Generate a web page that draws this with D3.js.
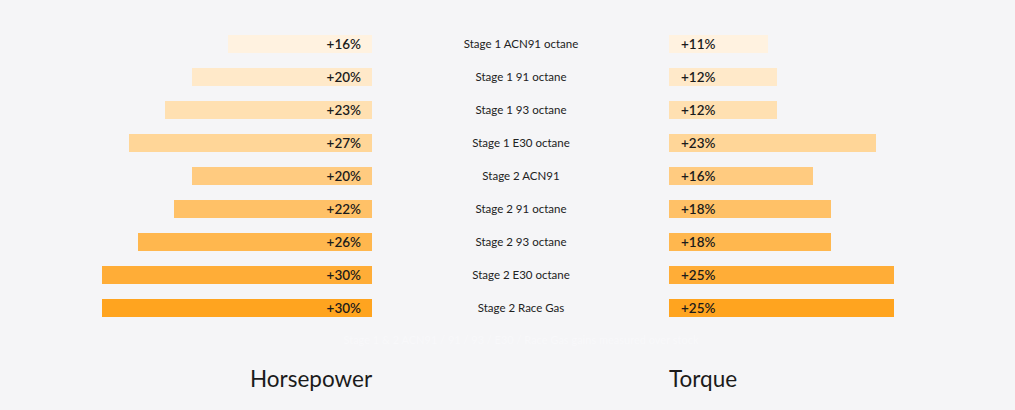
<!DOCTYPE html>
<html>
<head>
<meta charset="utf-8">
<script src="https://cdn.jsdelivr.net/npm/d3@7"></script>
<style>
  html, body { margin: 0; padding: 0; background: #f5f5f7; }
  svg { display: block; font-family: Lato, "Noto Sans", sans-serif; }
</style>
</head>
<body>
<svg id="chart" width="1015" height="410"></svg>
<script>
const categories = [
  "Stage 1 ACN91 octane",
  "Stage 1 91 octane",
  "Stage 1 93 octane",
  "Stage 1 E30 octane",
  "Stage 2 ACN91",
  "Stage 2 91 octane",
  "Stage 2 93 octane",
  "Stage 2 E30 octane",
  "Stage 2 Race Gas"
];
const horsepower = [16, 20, 23, 27, 20, 22, 26, 30, 30];
const torque = [11, 12, 12, 23, 16, 18, 18, 25, 25];
const seriesTitles = ["Horsepower", "Torque"];
const footnote = "Stage 1 & 2 ACN91 / 91 / 93 / E30 / Race Gas gains measured over stock";

const palette = ["#fff2e0", "#ffe9c9", "#ffe0b1", "#ffd698", "#ffcb80", "#ffc167", "#ffb74e", "#ffad37", "#ffa41f"];

const svg = d3.select("#chart");
const leftEdge = 372, rightStart = 669, centerX = 521;

const x = d3.scaleLinear().domain([0, 30]).range([0, 270]);
const y = d3.scaleBand().domain(categories).range([27.5, 324.5]).paddingInner(0.4545).paddingOuter(0.2273);
const color = d3.scaleOrdinal().domain(categories).range(palette);

const rows = categories.map((c, i) => ({ c, hp: horsepower[i], tq: torque[i] }));

// Left bars (horsepower)
svg.append("g").selectAll("rect").data(rows).join("rect")
  .attr("x", d => leftEdge - x(d.hp))
  .attr("y", d => y(d.c))
  .attr("width", d => x(d.hp))
  .attr("height", y.bandwidth())
  .attr("fill", d => color(d.c));

// Right bars (torque)
svg.append("g").selectAll("rect").data(rows).join("rect")
  .attr("x", rightStart)
  .attr("y", d => y(d.c))
  .attr("width", d => x(d.tq))
  .attr("height", y.bandwidth())
  .attr("fill", d => color(d.c));

const cy = d => y(d.c) + y.bandwidth() / 2;

svg.append("g").selectAll("text").data(rows).join("text")
  .attr("x", leftEdge - 11)
  .attr("y", cy)
  .attr("dy", "0.36em")
  .attr("text-anchor", "end")
  .attr("font-size", 13.5)
  .attr("font-weight", 600)
  .attr("fill", "#1b1b1b")
  .text(d => "+" + d.hp + "%");

svg.append("g").selectAll("text").data(rows).join("text")
  .attr("x", rightStart + 12)
  .attr("y", cy)
  .attr("dy", "0.36em")
  .attr("text-anchor", "start")
  .attr("font-size", 13.5)
  .attr("font-weight", 600)
  .attr("fill", "#1b1b1b")
  .text(d => "+" + d.tq + "%");

svg.append("g").selectAll("text").data(rows).join("text")
  .attr("x", centerX)
  .attr("y", cy)
  .attr("dy", "0.36em")
  .attr("text-anchor", "middle")
  .attr("font-size", 11.5)
  .attr("fill", "#222")
  .text(d => d.c);

svg.append("text")
  .attr("x", centerX).attr("y", 344)
  .attr("text-anchor", "middle")
  .attr("font-size", 11)
  .attr("fill", "#f8f8fa")
  .text(footnote);

svg.append("text")
  .attr("x", 250).attr("y", 387)
  .attr("font-size", 22.5)
  .attr("fill", "#1b1b1b")
  .text(seriesTitles[0]);

svg.append("text")
  .attr("x", rightStart).attr("y", 387)
  .attr("font-size", 22.5)
  .attr("fill", "#1b1b1b")
  .text(seriesTitles[1]);
</script>
</body>
</html>
